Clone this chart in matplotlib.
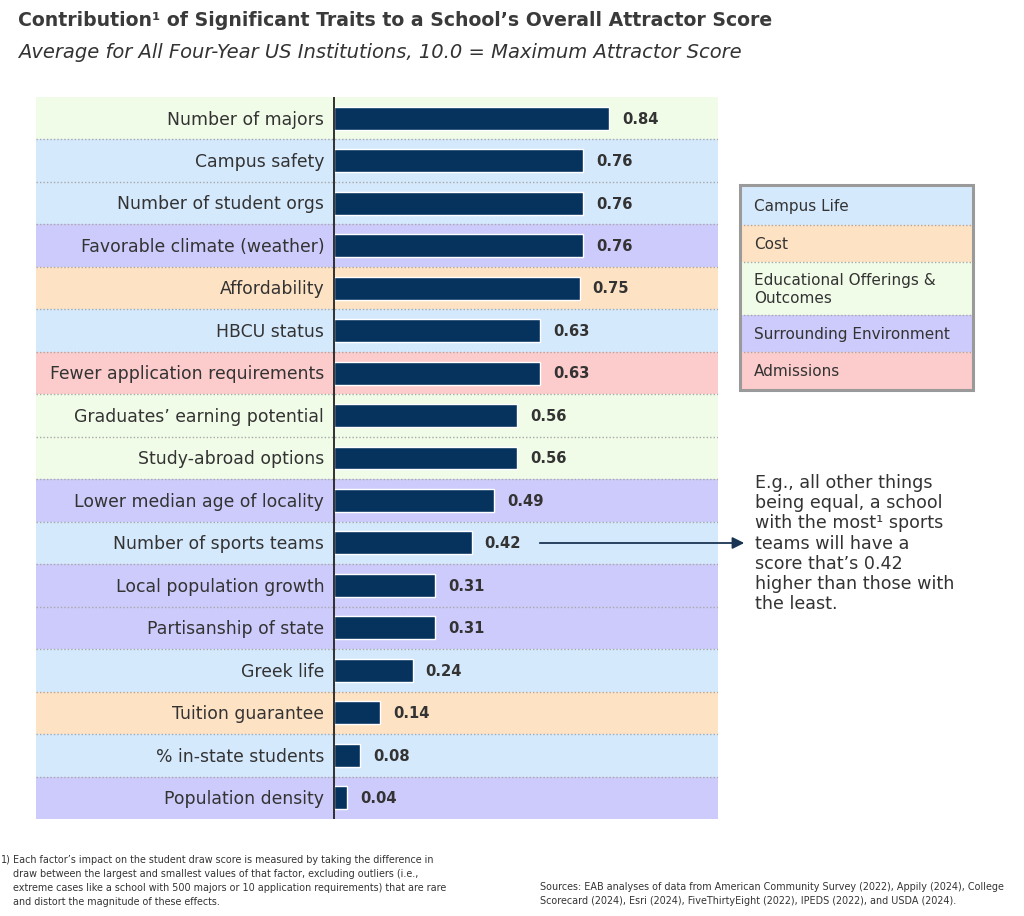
import matplotlib
matplotlib.use("Agg")
import matplotlib.pyplot as plt
from matplotlib.patches import Rectangle

categories = [
    "Number of majors", "Campus safety", "Number of student orgs",
    "Favorable climate (weather)", "Affordability", "HBCU status",
    "Fewer application requirements", "Graduates\u2019 earning potential",
    "Study-abroad options", "Lower median age of locality",
    "Number of sports teams", "Local population growth",
    "Partisanship of state", "Greek life", "Tuition guarantee",
    "% in-state students", "Population density",
]
values = [0.84, 0.76, 0.76, 0.76, 0.75, 0.63, 0.63, 0.56, 0.56, 0.49,
          0.42, 0.31, 0.31, 0.24, 0.14, 0.08, 0.04]
groups = ["edu", "campus", "campus", "env", "cost", "campus", "adm", "edu",
          "edu", "env", "campus", "env", "env", "campus", "cost", "campus", "env"]

legend_keys = ["campus", "cost", "edu", "env", "adm"]
legend_labels = ["Campus Life", "Cost", "Educational Offerings &\nOutcomes",
                 "Surrounding Environment", "Admissions"]

group_colors = {
    "campus": "#d5e9fd",
    "cost": "#fde2c4",
    "edu": "#f1fce8",
    "env": "#cdcbfb",
    "adm": "#fccbcb",
}
bar_color = "#06325e"
text_color = "#333333"

W, H = 1024, 916
fig = plt.figure(figsize=(W / 100, H / 100), dpi=100)
fig.patch.set_facecolor("white")

def fx(px):
    return px / W

def fy(py):
    return 1 - py / H

# main axes
left, right, top, bottom = 36, 718, 97, 819
ax = fig.add_axes([fx(left), fy(bottom), fx(right - left), (bottom - top) / H])
scale = 327.4
xmin = (left - 334) / scale
xmax = (right - 334) / scale
ax.set_xlim(xmin, xmax)
n = len(categories)
ax.set_ylim(n - 0.5, -0.5)
ax.axis("off")

for i, (cat, v, g) in enumerate(zip(categories, values, groups)):
    ax.axhspan(i - 0.5, i + 0.5, color=group_colors[g], lw=0, zorder=0)
    if i < n - 1:
        ax.axhline(i + 0.5, color="#a8a8a8", lw=1.0, ls=(0, (1, 1.5)), zorder=1)
    ax.text(-0.03, i + 0.03, cat, ha="right", va="center", fontsize=12.4,
            color=text_color, zorder=3)
    ax.text(v + 0.04, i + 0.02, f"{v:.2f}", ha="left", va="center", fontsize=10.6,
            fontweight="bold", color=text_color, zorder=3)

ax.barh(range(n), values, height=0.54, color=bar_color, edgecolor="white",
        linewidth=1.0, zorder=2)
ax.plot([0, 0], [-0.5, n - 0.45], color="#222222", lw=1.3, zorder=4,
        solid_capstyle="butt")

# title and subtitle
fig.text(fx(18), fy(21), "Contribution\u00b9 of Significant Traits to a School\u2019s Overall Attractor Score",
         fontsize=13.6, fontweight="bold", color="#3a3a3a", va="center", ha="left")
fig.text(fx(18), fy(53), "Average for All Four-Year US Institutions, 10.0 = Maximum Attractor Score",
         fontsize=14.0, style="italic", color=text_color, va="center", ha="left")

# legend
lg_left, lg_right = 740, 973
row_edges = [185, 225, 262, 315, 352, 390]
lax = fig.add_axes([fx(lg_left), fy(row_edges[-1]), fx(lg_right - lg_left),
                    (row_edges[-1] - row_edges[0]) / H])
lax.set_xlim(0, 1)
lax.set_ylim(row_edges[-1], row_edges[0])
lax.axis("off")
for k, (key, lab) in enumerate(zip(legend_keys, legend_labels)):
    y0, y1 = row_edges[k], row_edges[k + 1]
    lax.add_patch(Rectangle((0, y0), 1, y1 - y0, color=group_colors[key], lw=0, zorder=0))
    if k > 0:
        lax.plot([0, 1], [y0, y0], color="#a8a8a8", lw=1.0, ls=(0, (1, 1.5)), zorder=1)
    lax.text(0.06, (y0 + y1) / 2 + 1, lab, ha="left", va="center", fontsize=11.0,
             color=text_color, linespacing=1.2, zorder=2)
lax.add_patch(Rectangle((0, row_edges[0]), 1, row_edges[-1] - row_edges[0],
                        fill=False, edgecolor="#9a9a9a", lw=2.2, zorder=3,
                        clip_on=False))

# annotation
fig.text(fx(755), fy(474), "E.g., all other things\nbeing equal, a school\nwith the most\u00b9 sports\n"
         "teams will have a\nscore that\u2019s 0.42\nhigher than those with\nthe least.",
         fontsize=12.6, color=text_color, va="top", ha="left", linespacing=1.16)
fig.add_artist(matplotlib.patches.FancyArrowPatch(
    (fx(537), fy(543)), (fx(747), fy(543)), transform=fig.transFigure,
    arrowstyle="-|>,head_length=7,head_width=3.5", color="#1a3553", lw=1.3))

# footnotes
fig.text(fx(1), fy(855), "1)", fontsize=6.9, color=text_color, va="top", ha="left")
fig.text(fx(13), fy(855),
         "Each factor\u2019s impact on the student draw score is measured by taking the difference in\n"
         "draw between the largest and smallest values of that factor, excluding outliers (i.e.,\n"
         "extreme cases like a school with 500 majors or 10 application requirements) that are rare\n"
         "and distort the magnitude of these effects.",
         fontsize=6.9, color=text_color, va="top", ha="left", linespacing=1.5)
fig.text(fx(540), fy(882),
         "Sources: EAB analyses of data from American Community Survey (2022), Appily (2024), College\n"
         "Scorecard (2024), Esri (2024), FiveThirtyEight (2022), IPEDS (2022), and USDA (2024).",
         fontsize=6.95, color=text_color, va="top", ha="left", linespacing=1.5)

fig.savefig("out.png", dpi=100, facecolor="white")
